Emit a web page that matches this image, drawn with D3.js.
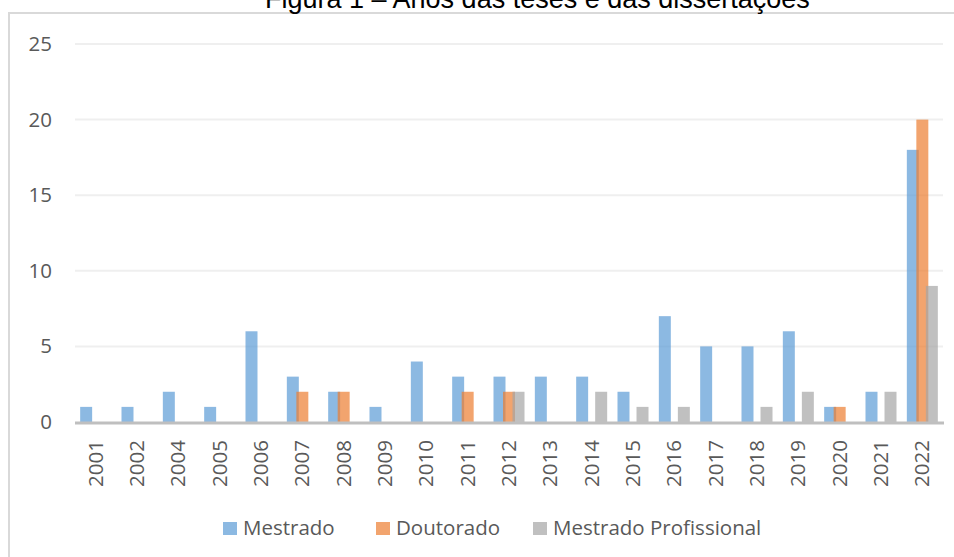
<!DOCTYPE html>
<html>
<head>
<meta charset="utf-8">
<script src="https://cdn.jsdelivr.net/npm/d3@7"></script>
<style>
  html, body { margin: 0; padding: 0; background: #fff; }
  svg { display: block; }
</style>
</head>
<body>
<div class="chart-area"></div>
<script>
const years = ["2001","2002","2004","2005","2006","2007","2008","2009","2010","2011",
  "2012","2013","2014","2015","2016","2017","2018","2019","2020","2021","2022"];
const mestrado     = [1,1,2,1,6,3,2,1,4,3,3,3,3,2,7,5,5,6,1,2,18];
const doutorado    = [0,0,0,0,0,2,2,0,0,2,2,0,0,0,0,0,0,0,1,0,20];
const profissional = [0,0,0,0,0,0,0,0,0,0,2,0,2,1,1,0,1,2,0,2,9];
const seriesNames  = ["Mestrado", "Doutorado", "Mestrado Profissional"];
const yTicks = [0, 5, 10, 15, 20, 25];
const title = "Figura 1 – Anos das teses e das dissertações";

const width = 954, height = 557;
const margin = { top: 44, right: 11, bottom: 135, left: 75 };
const colors = ["#5B9BD5", "#ED7D31", "#A5A5A5"];
const font = "'Open Sans', 'Noto Sans', sans-serif";
const fs = 20.5;

const svg = d3.select('.chart-area').append('svg')
  .attr('width', width).attr('height', height);

// outer chart frame
svg.append("rect")
  .attr("x", 9).attr("y", 13)
  .attr("width", width).attr("height", height)
  .attr("fill", "none").attr("stroke", "#D9D9D9").attr("stroke-width", 2);

// title (cut off at the top, as in the source)
svg.append("text")
  .attr("x", 265).attr("y", 8)
  .attr("font-family", "'Liberation Sans', Arial, sans-serif")
  .attr("font-size", 27)
  .attr("fill", "#000")
  .text(title);

var x = d3.scaleBand()
  .domain(years)
  .range([margin.left, width - margin.right])
  .padding(0);

var y = d3.scaleLinear()
  .domain([0, 25])
  .range([height - margin.bottom, margin.top]);

// gridlines
svg.append("g")
  .selectAll("line")
  .data(yTicks.filter(d => d > 0))
  .join("line")
  .attr("x1", margin.left).attr("x2", width - margin.right)
  .attr("y1", d => y(d)).attr("y2", d => y(d))
  .attr("stroke", "#EFEFEF").attr("stroke-width", 2);

// y axis labels
var yAxis = g => g
  .attr("transform", `translate(${margin.left},0)`)
  .call(d3.axisLeft(y).tickValues(yTicks).tickSize(0).tickPadding(23))
  .call(g => g.select(".domain").remove())
  .call(g => g.selectAll("text")
    .attr("font-family", font).attr("font-size", fs).attr("fill", "#595959"));
svg.append("g").call(yAxis);

// bars
const step = x.step();
const barW = step * 0.29;
const offset = step * 0.23;
const allSeries = [mestrado, doutorado, profissional];

allSeries.forEach((vals, si) => {
  svg.append("g")
    .attr("fill", colors[si])
    .attr("fill-opacity", 0.7)
    .selectAll("rect")
    .data(vals.map((v, i) => ({ year: years[i], value: v })).filter(d => d.value > 0))
    .join("rect")
    .attr("x", d => x(d.year) + step / 2 + (si - 1) * offset - barW / 2)
    .attr("width", barW)
    .attr("y", d => y(d.value))
    .attr("height", d => y(0) - y(d.value));
});

// zero axis line
svg.append("line")
  .attr("x1", margin.left).attr("x2", width - margin.right + 1)
  .attr("y1", y(0) + 1).attr("y2", y(0) + 1)
  .attr("stroke", "#BFBFBF").attr("stroke-width", 3);

// x axis labels (rotated)
svg.append("g")
  .selectAll("text")
  .data(years)
  .join("text")
  .attr("transform", d => `translate(${x(d) + step / 2 + 7},440) rotate(-90)`)
  .attr("text-anchor", "end")
  .attr("font-family", font).attr("font-size", fs).attr("fill", "#595959")
  .text(d => d);

// legend
const legendX = [223, 376, 533];
const legend = svg.append("g")
  .selectAll("g")
  .data(seriesNames)
  .join("g")
  .attr("transform", (d, i) => `translate(${legendX[i]},522)`);
legend.append("rect")
  .attr("width", 14).attr("height", 13)
  .attr("fill", (d, i) => colors[i]).attr("fill-opacity", 0.7);
legend.append("text")
  .attr("x", 20).attr("y", 13)
  .attr("font-family", font).attr("font-size", fs).attr("fill", "#595959")
  .text(d => d);
</script>
</body>
</html>
